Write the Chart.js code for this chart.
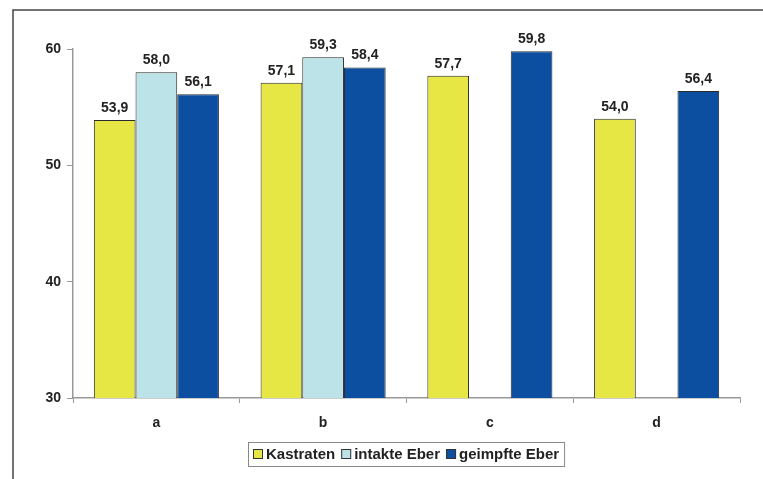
<!DOCTYPE html>
<html>
<head>
<meta charset="utf-8">
<script src="https://cdn.jsdelivr.net/npm/chart.js@4/dist/chart.umd.min.js"></script>
<style>
  html, body { margin: 0; padding: 0; background: #ffffff; }
  #wrap { width: 763px; height: 479px; position: relative; }
</style>
</head>
<body>
<div id="wrap"><canvas id="c" width="763" height="479"></canvas></div>
<script>
// Categories and series
const categories = ['a', 'b', 'c', 'd'];
const kastraten = [53.9, 57.1, 57.7, 54.0];
const intakteEber = [58.0, 59.3, null, null];
const geimpfteEber = [56.1, 58.4, 59.8, 56.4];
const seriesNames = ['Kastraten', 'intakte Eber', 'geimpfte Eber'];
const yTicks = [30, 40, 50, 60];

const colors = ['#e6e644', '#bce3e8', '#0c4fa0'];
const FONT = '"Liberation Sans", Arial, sans-serif';

// Frame, value labels and boxed legend
const decor = {
  id: 'decor',
  afterDatasetsDraw(chart) {
    const ctx = chart.ctx;
    ctx.save();
    // value labels above bars
    ctx.font = 'bold 14px ' + FONT;
    ctx.fillStyle = '#222';
    ctx.textAlign = 'center';
    ctx.textBaseline = 'bottom';
    chart.data.datasets.forEach((ds, i) => {
      const meta = chart.getDatasetMeta(i);
      meta.data.forEach((bar, j) => {
        const v = ds.data[j];
        if (v === null || v === undefined) return;
        ctx.fillText(v.toFixed(1).replace('.', ','), bar.x, bar.y - 5);
      });
    });
    ctx.restore();
  },
  afterDraw(chart) {
    const ctx = chart.ctx;
    ctx.save();
    // outer frame (top and left edges)
    ctx.strokeStyle = '#444';
    ctx.lineWidth = 1.5;
    ctx.beginPath();
    ctx.moveTo(13, 479);
    ctx.lineTo(13, 10);
    ctx.lineTo(763, 10);
    ctx.stroke();

    // legend
    ctx.font = 'bold 15px ' + FONT;
    const sq = 10, gapSq = 3, gapItem = 6, padX = 5;
    const widths = seriesNames.map(n => ctx.measureText(n).width);
    let total = padX * 2;
    widths.forEach((w, i) => { total += sq + gapSq + w + (i < widths.length - 1 ? gapItem : 0); });
    const area = chart.chartArea;
    const cx = (area.left + area.right) / 2;
    const top = 442, h = 24;
    const left = Math.round(cx - total / 2);
    ctx.fillStyle = '#fff';
    ctx.fillRect(left, top, total, h);
    ctx.strokeStyle = '#888';
    ctx.lineWidth = 1;
    ctx.strokeRect(left + 0.5, top + 0.5, total, h);
    let x = left + padX;
    const midY = top + h / 2;
    seriesNames.forEach((n, i) => {
      ctx.fillStyle = colors[i];
      ctx.fillRect(x, midY - sq / 2, sq, sq);
      ctx.strokeStyle = '#333';
      ctx.strokeRect(x + 0.5, midY - sq / 2 + 0.5, sq - 1, sq - 1);
      x += sq + gapSq;
      ctx.fillStyle = '#222';
      ctx.textAlign = 'left';
      ctx.textBaseline = 'middle';
      ctx.fillText(n, x, midY + 1);
      x += widths[i] + gapItem;
    });
    ctx.restore();
  }
};

new Chart(document.getElementById('c'), {
  type: 'bar',
  data: {
    labels: categories,
    datasets: [
      { label: seriesNames[0], data: kastraten, backgroundColor: colors[0] },
      { label: seriesNames[1], data: intakteEber, backgroundColor: colors[1] },
      { label: seriesNames[2], data: geimpfteEber, backgroundColor: colors[2] }
    ].map(d => Object.assign(d, { borderColor: '#2a2a2a', borderWidth: 1, borderSkipped: 'bottom',
      categoryPercentage: 0.75, barPercentage: 1.0 }))
  },
  options: {
    responsive: false,
    animation: false,
    events: [],
    layout: { padding: { left: 20, right: 23, top: 49, bottom: 51 } },
    plugins: { legend: { display: false }, tooltip: { enabled: false } },
    scales: {
      x: {
        grid: { display: true, drawOnChartArea: false, offset: true, tickLength: 5, color: '#999' },
        border: { color: '#999', width: 1.5 },
        ticks: { font: { family: FONT, size: 14, weight: 'bold' }, color: '#222', padding: 12 },
        afterFit(s) { s.height = 30; }
      },
      y: {
        min: 30, max: 60,
        afterBuildTicks(s) { s.ticks = yTicks.map(v => ({ value: v })); },
        grid: { display: true, drawOnChartArea: false, tickLength: 6, color: '#999' },
        border: { color: '#999', width: 1.5 },
        ticks: { font: { family: FONT, size: 14, weight: 'bold' }, color: '#222', padding: 6 },
        afterFit(s) { s.width = 53; }
      }
    }
  },
  plugins: [decor]
});
</script>
</body>
</html>
